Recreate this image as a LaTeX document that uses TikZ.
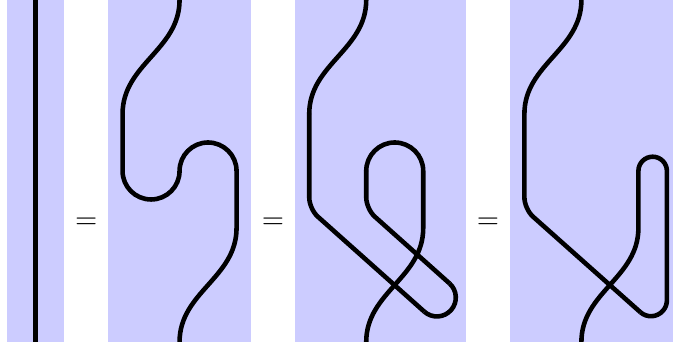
\documentclass[tikz,border=0pt]{standalone}
\usepackage{xcolor}
\usepackage{amsmath}
\usepackage{tikz}
\definecolor{panelblue}{RGB}{204,204,255}

\begin{document}
\begin{tikzpicture}[
    x=0.7cm,
    y=0.7cm,
    panel/.style={fill=panelblue},
    strand/.style={draw=black, line width=1.6pt},
    kinkstrand/.style={strand, rounded corners=4pt}
]
\useasboundingbox (0,0) rectangle (11.807,6);

\fill[panel] (0.125,0) rectangle (1.125,6);
\fill[panel] (1.9,0) rectangle (4.4,6);
\fill[panel] (5.175,0) rectangle (8.175,6);
\fill[panel] (8.95,0) rectangle (11.807,6);

\node (eq1) at (1.5125,2.08) {$=$};
\node (eq2) at (4.7875,2.08) {$=$};
\node (eq3) at (8.5625,2.08) {$=$};

\draw[strand] (0.625,0) -- (0.625,6);

\draw[strand] (3.15,6) to[out=-90,in=90] (2.15,4) -- (2.15,3)
    arc[start angle=180,end angle=360,radius=0.5]
    arc[start angle=180,end angle=0,radius=0.5]
    -- (4.15,2) to[out=-90,in=90] (3.15,0);

\draw[strand] (6.425,6) to[out=-90,in=90] (5.425,4);
\draw[kinkstrand] (5.425,4) -- (5.425,2.333) -- (7.444,0.532);
\draw[strand] (7.444,0.532) arc[start angle=-131.67,end angle=48.33,radius=0.332];
\draw[kinkstrand] (7.886,1.028) -- (6.425,2.333) -- (6.425,3);
\draw[strand] (6.425,3) arc[start angle=180,end angle=0,radius=0.5]
    -- (7.425,2) to[out=-90,in=90] (6.425,0);

\draw[strand] (10.2,6) to[out=-90,in=90] (9.2,4);
\draw[kinkstrand] (9.2,4) -- (9.2,2.333) -- (11.234,0.523);
\draw[strand] (11.234,0.523) arc[start angle=-131.67,end angle=0,radius=0.28]
    -- (11.7,3)
    arc[start angle=0,end angle=180,radius=0.25]
    -- (11.2,2) to[out=-90,in=90] (10.2,0);
\end{tikzpicture}
\end{document}
